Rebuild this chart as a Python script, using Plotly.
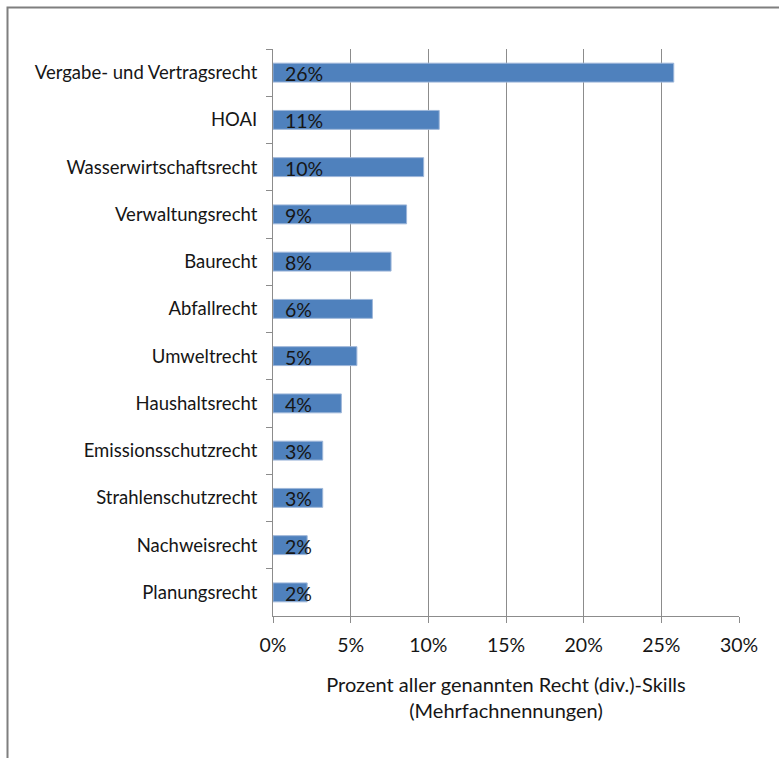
import plotly.graph_objects as go

# Share of all mentioned legal skills (multiple answers possible), top to bottom
categories = [
    "Vergabe- und Vertragsrecht",
    "HOAI",
    "Wasserwirtschaftsrecht",
    "Verwaltungsrecht",
    "Baurecht",
    "Abfallrecht",
    "Umweltrecht",
    "Haushaltsrecht",
    "Emissionsschutzrecht",
    "Strahlenschutzrecht",
    "Nachweisrecht",
    "Planungsrecht",
]
shares = [0.258, 0.107, 0.097, 0.086, 0.076, 0.064, 0.054, 0.044, 0.032, 0.032, 0.022, 0.022]
x_ticks = [0, 0.05, 0.10, 0.15, 0.20, 0.25, 0.30]

FONT = "Lato, Carlito, Calibri, sans-serif"
GRID = "#8c8c8c"
TEXT = "#161616"

fig = go.Figure(
    go.Bar(
        x=shares,
        y=categories,
        orientation="h",
        width=0.4,
        marker=dict(color="#4F81BD", line=dict(color="#9DB6D9", width=1)),
        hoverinfo="x+y",
    )
)

# value labels sitting inside the bars near their base
for cat, v in zip(categories, shares):
    fig.add_annotation(
        x=0, y=cat, xref="x", yref="y",
        text=f"{v:.0%}", showarrow=False,
        xanchor="left", xshift=10, yshift=-1,
        font=dict(family=FONT, size=19.5, color=TEXT),
    )

W, H = 779, 758
L, R, T, B = 273, 40, 49, 142
pw, ph = W - L - R, H - T - B

# outer chart frame (left and top edges)
fx = (7.5 - L) / pw
fy = 1 + (T - 7.5) / ph
fig.add_shape(
    type="path", xref="paper", yref="paper",
    path=f"M {fx} -0.5 L {fx} {fy} L 1.2 {fy}",
    line=dict(color="#7f7f7f", width=2),
)

fig.update_layout(
    width=W, height=H,
    margin=dict(l=L, r=R, t=T, b=B),
    paper_bgcolor="white", plot_bgcolor="white",
    showlegend=False,
    font=dict(family=FONT, color=TEXT),
    xaxis=dict(
        range=[0, 0.30],
        tickvals=x_ticks,
        tickformat=".0%",
        showgrid=True, gridcolor=GRID, gridwidth=1,
        showline=True, linecolor=GRID, linewidth=1,
        ticks="outside", ticklen=6, tickcolor=GRID,
        tickfont=dict(size=19.5, family=FONT, color=TEXT),
        ticklabelstandoff=6,
        zeroline=False,
        title=dict(
            text="Prozent aller genannten Recht (div.)-Skills<br>(Mehrfachnennungen)",
            font=dict(size=20, family=FONT, color=TEXT),
            standoff=22,
        ),
    ),
    yaxis=dict(
        autorange="reversed",
        showline=True, linecolor=GRID, linewidth=1,
        ticks="outside", ticklen=6, tickcolor=GRID,
        tickson="boundaries",
        showgrid=False,
        tickfont=dict(size=18.5, family=FONT, color=TEXT),
        ticklabelstandoff=11,
    ),
)

fig.write_html("out.html")
